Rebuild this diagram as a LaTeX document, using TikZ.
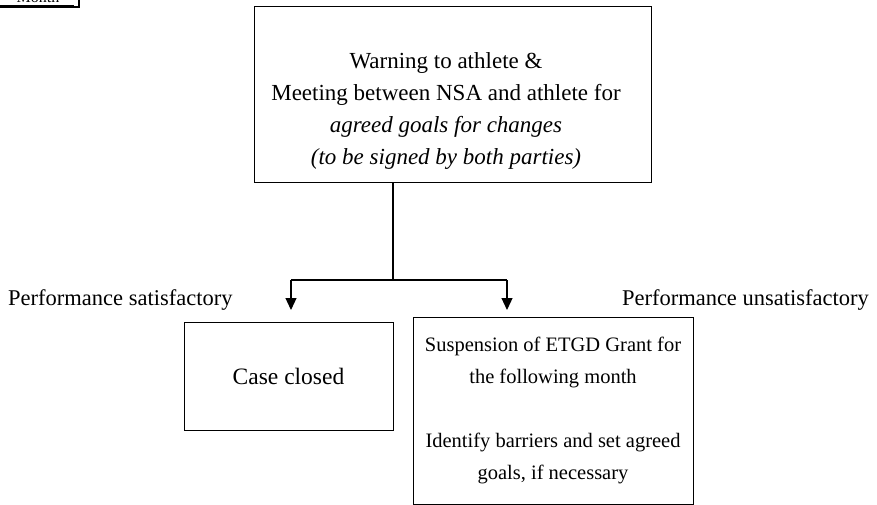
\documentclass[tikz,border=0pt]{standalone}
\usepackage{fontspec}
\setmainfont{Liberation Serif}
\usetikzlibrary{arrows.meta}
\begin{document}
\begin{tikzpicture}[x=1pt,y=-1pt,
  box/.style={draw,line width=1pt,inner sep=0pt},
  btext/.style={align=center,inner sep=0pt},
  lbl/.style={font=\fontsize{22.5}{26}\selectfont,inner sep=0pt},
  arr/.style={line width=1.2pt,-{Triangle[length=12pt,width=11pt]}},
  conn/.style={line width=1.2pt}]
\useasboundingbox (0,0) rectangle (877,505);
% cropped box at top-left
\begin{scope}
\clip (0,0) rectangle (80,8);
\node[font=\fontsize{16}{18}\selectfont,anchor=base,inner sep=0pt] (month) at (38,2.5) {Month};
\draw[line width=0.8pt] (0,5.8) -- (74,5.8);
\draw[line width=1.8pt] (-5,-5) rectangle (79,7);
\end{scope}
% boxes
\node[box,minimum width=397pt,minimum height=175pt] (top) at (452.5,94.5) {};
\node[btext,font=\fontsize{23}{32}\selectfont] (toptext) at (446,111)
 {Warning to athlete \&\\Meeting between NSA and athlete for\\
  \textit{agreed goals for changes}\\\textit{(to be signed by both parties)}};
\node[box,minimum width=209pt,minimum height=108pt] (case) at (288.5,376) {};
\node[btext,font=\fontsize{23.5}{28}\selectfont] (casetext) at (case) {Case closed};
\node[box,minimum width=280pt,minimum height=187pt] (susp) at (553,410.5) {};
\node[btext,font=\fontsize{20.5}{32}\selectfont] (susptext) at (553,410)
 {Suspension of ETGD Grant for\\the following month\\[32pt]Identify barriers and set agreed\\goals, if necessary};
% labels
\node[lbl,anchor=base west] (sat) at (8,305) {Performance satisfactory};
\node[lbl,anchor=base east] (unsat) at (869,305) {Performance unsatisfactory};
% connectors
\coordinate (j) at (393,280);
\coordinate (l) at (291,280);
\coordinate (r) at (507,280);
\coordinate (lt) at (291,310);
\coordinate (rt) at (507,310);
\draw[conn] (top.south -| j) -- (j);
\draw[conn] (l) -- (r);
\draw[arr] (l) -- (lt);
\draw[arr] (r) -- (rt);
\end{tikzpicture}
\end{document}
